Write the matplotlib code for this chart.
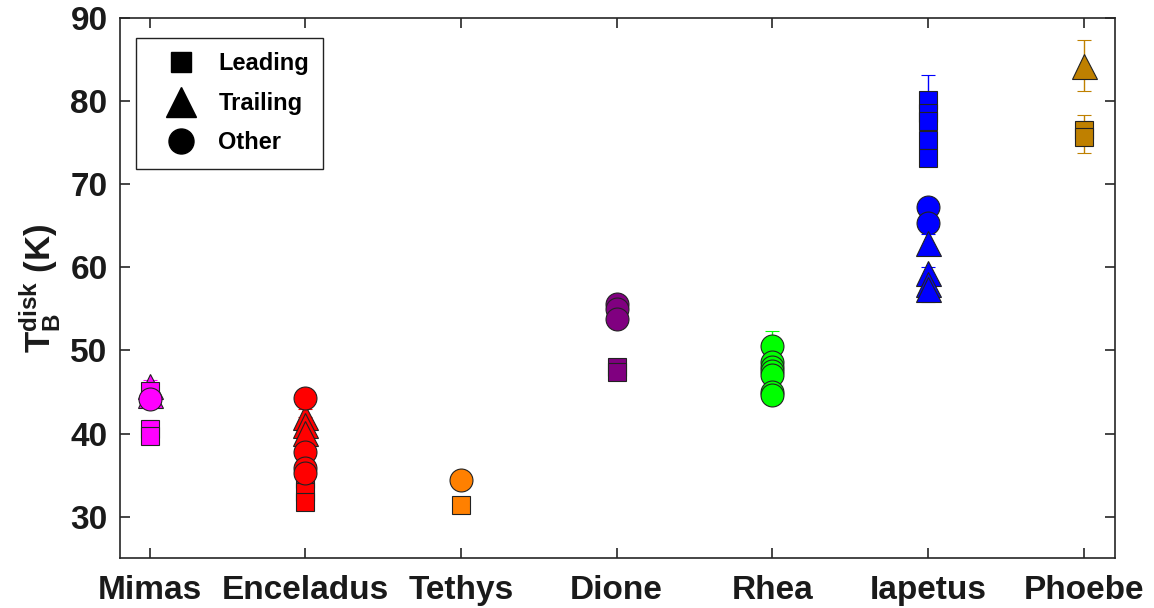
"""Disk-integrated brightness temperature of the Saturnian satellites."""

import matplotlib

matplotlib.use("Agg")
import matplotlib.pyplot as plt
from matplotlib.lines import Line2D

plt.rcParams["font.family"] = ["Liberation Sans", "DejaVu Sans"]
plt.rcParams["font.weight"] = "bold"
plt.rcParams["mathtext.fontset"] = "custom"
plt.rcParams["mathtext.rm"] = "Liberation Sans:bold"
plt.rcParams["mathtext.bf"] = "Liberation Sans:bold"
plt.rcParams["mathtext.it"] = "Liberation Sans:bold"

moons = ["Mimas", "Enceladus", "Tethys", "Dione", "Rhea", "Iapetus", "Phoebe"]
colors = ["#FF00FF", "#FF0000", "#FF8000", "#800080", "#00FF00", "#0000FF", "#BF8000"]

# one list per moon, brightness temperature in K
leading_tb = [
    [45.1, 40.6, 39.7],
    [34.5, 33.0, 31.8],
    [31.4],
    [48.0, 47.4],
    [],
    [80.2, 78.6, 77.6, 75.4, 73.2],
    [76.6, 75.7],
]
leading_err = [
    [1.0, 1.0, 0.8],
    [1.0, 1.0, 0.8],
    [0.8],
    [0.8, 0.8],
    [],
    [3.0, 1.5, 1.5, 1.5, 0.8],
    [1.8, 1.9],
]
trailing_tb = [
    [45.7, 44.7],
    [42.0, 41.0, 40.1],
    [],
    [],
    [],
    [63.0, 59.3, 58.0, 57.4],
    [84.3],
]
trailing_err = [
    [0.8, 0.8],
    [1.0, 1.0, 1.0],
    [],
    [],
    [],
    [1.0, 0.8, 0.8, 1.6],
    [3.1],
]
other_tb = [
    [44.2],
    [44.3, 37.8, 35.9, 35.3],
    [34.4],
    [55.6, 55.0, 53.8],
    [50.5, 48.6, 48.0, 47.5, 47.0, 45.0, 44.6],
    [67.3, 65.3],
    [],
]
other_err = [
    [0.8],
    [1.0, 1.0, 1.0, 1.0],
    [0.8],
    [0.8, 0.8, 0.8],
    [1.8, 1.0, 1.0, 1.0, 1.0, 1.0, 1.0],
    [1.0, 1.0],
    [],
]

# stacking of the three marker groups for each moon (bottom -> top)
stack_order = ["^so", "s^o", "so^", "so^", "so^", "so^", "so^"]

groups = {
    "s": (leading_tb, leading_err, 13),
    "^": (trailing_tb, trailing_err, 18),
    "o": (other_tb, other_err, 16.5),
}

fig = plt.figure(figsize=(11.54, 6.08), dpi=100)
ax = fig.add_axes([0.104, 0.082, 0.862, 0.888])

for i, order in enumerate(stack_order):
    for z, marker in enumerate(order):
        values, errors, size = groups[marker]
        vals, errs = values[i], errors[i]
        if not vals:
            continue
        ax.errorbar(
            [i + 1] * len(vals), vals, yerr=errs, fmt=marker, ms=size,
            mfc=colors[i], mec="#222222", mew=0.8, ecolor=colors[i],
            elinewidth=1.0, capsize=5, capthick=1.0, zorder=2 + z,
        )

ax.set_xlim(0.81, 7.2)
ax.set_ylim(25, 90)
ax.set_xticks(range(1, len(moons) + 1))
ax.set_xticklabels(moons)
ax.set_yticks(range(30, 91, 10))
ax.tick_params(direction="in", length=7, width=1.2, top=True, right=True,
               labelsize=24, color="#262626")
ax.tick_params(axis="x", pad=12)
ax.tick_params(axis="y", pad=9)
for lbl in ax.get_xticklabels() + ax.get_yticklabels():
    lbl.set_fontweight("bold")
    lbl.set_color("#1a1a1a")
for sp in ax.spines.values():
    sp.set_linewidth(1.2)
    sp.set_color("#262626")

ax.set_ylabel(r"$\mathbf{T_B^{disk}}$ (K)", fontsize=25, fontweight="bold",
              color="#1a1a1a", labelpad=6)

handles = [
    Line2D([], [], ls="none", marker="s", ms=15, color="k", label="Leading"),
    Line2D([], [], ls="none", marker="^", ms=21, color="k", label="Trailing"),
    Line2D([], [], ls="none", marker="o", ms=18, color="k", label="Other"),
]
leg = ax.legend(handles=handles, loc="upper left",
                prop={"weight": "bold", "size": 17}, fancybox=False,
                edgecolor="#222222", framealpha=1, borderpad=0.6,
                labelspacing=0.7, handletextpad=0.3, handlelength=2.6,
                bbox_to_anchor=(0.004, 0.985))
leg.get_frame().set_linewidth(1.0)

fig.savefig("out.png", dpi=100)
